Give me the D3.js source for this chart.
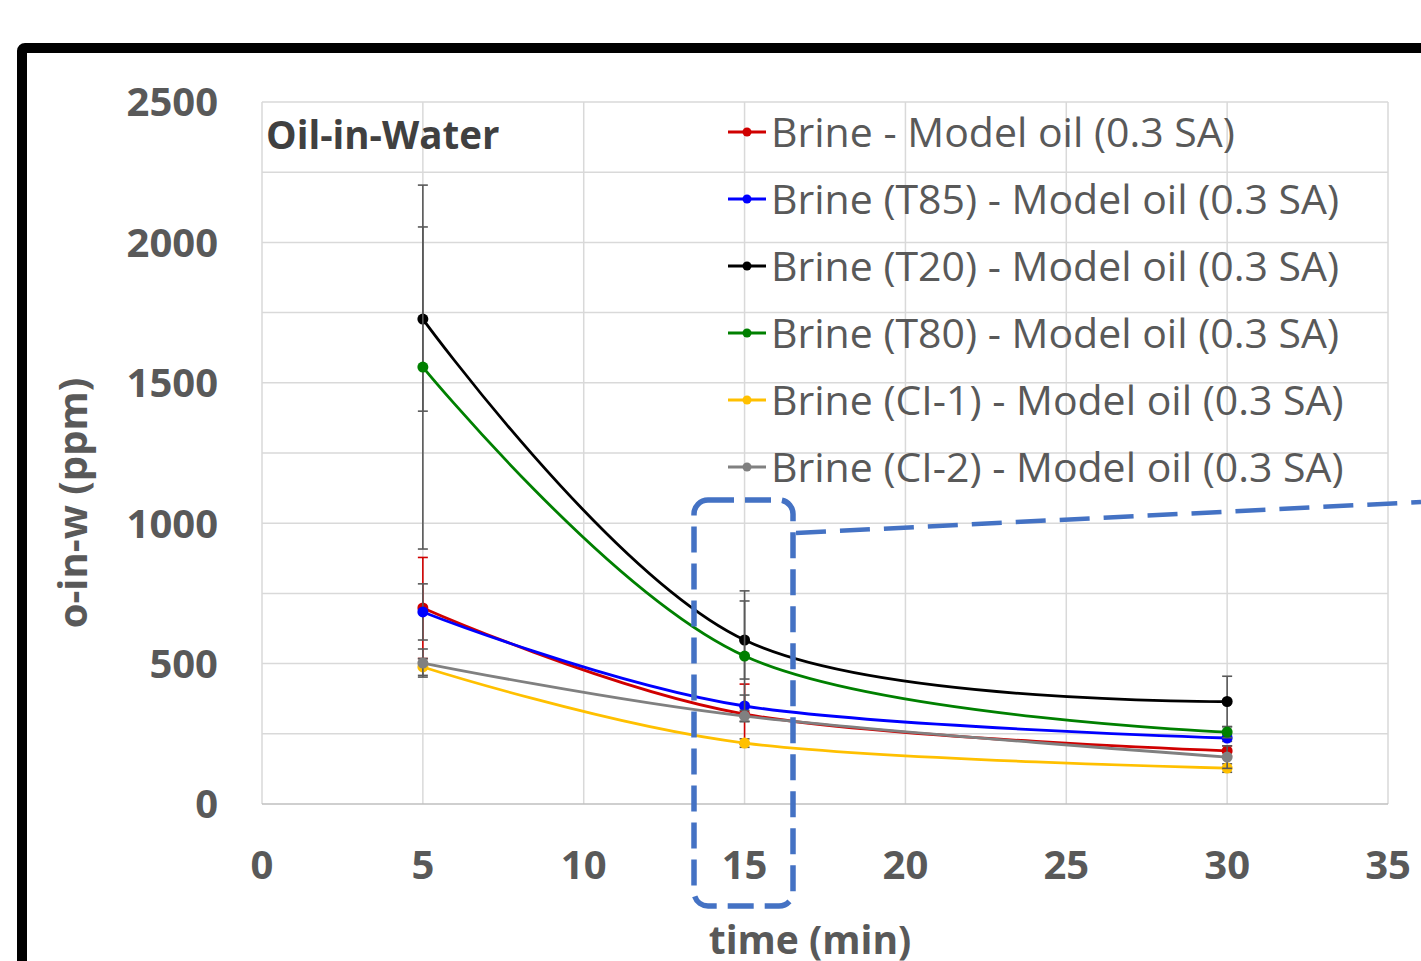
<!DOCTYPE html>
<html>
<head>
<meta charset="utf-8">
<script src="https://cdn.jsdelivr.net/npm/d3@7"></script>
<style>
  body { margin: 0; background: #fff; }
  svg { display: block; font-family: "Open Sans", "Noto Sans", sans-serif; }
</style>
</head>
<body>
<div id="chart-area"></div>
<script>
const times = [5, 15, 30]
const seriesNames = [
  "Brine - Model oil (0.3 SA)",
  "Brine (T85) - Model oil (0.3 SA)",
  "Brine (T20) - Model oil (0.3 SA)",
  "Brine (T80) - Model oil (0.3 SA)",
  "Brine (CI-1) - Model oil (0.3 SA)",
  "Brine (CI-2) - Model oil (0.3 SA)"
]
const seriesValues = [
  [698, 320, 189],
  [684, 349, 235],
  [1727, 584, 365],
  [1556, 527, 256],
  [488, 217, 128],
  [502, 313, 167]
]
const seriesErrors = [
  [180, 107, 18],
  [100, 39, 12],
  [328, 139, 90],
  [648, 232, 20],
  [30, 15, 15],
  [50, 20, 40]
]
const seriesColors = ["#d00000", "#0000ff", "#000000", "#008000", "#ffc000", "#808080"]
const errorColors = ["#d00000", "#595959", "#595959", "#595959", "#595959", "#595959"]
const xTicks = [0, 5, 10, 15, 20, 25, 30, 35]
const yTicks = [0, 500, 1000, 1500, 2000, 2500]

const W = 1421, H = 961
const PLOT = {LEFT: 262, RIGHT: 1388, TOP: 102, BOTTOM: 804}

const svg = d3.select("#chart-area").append("svg")
  .attr("width", W)
  .attr("height", H)

svg.append("rect").attr("width", W).attr("height", H).attr("fill", "#fff")

// thick frame around the figure (runs off the right and bottom)
svg.append("rect")
  .attr("x", 22).attr("y", 48)
  .attr("width", 1500).attr("height", 1000)
  .attr("rx", 3)
  .attr("fill", "none")
  .attr("stroke", "#000")
  .attr("stroke-width", 10)

const x = d3.scaleLinear().domain([0, 35]).range([PLOT.LEFT, PLOT.RIGHT])
const y = d3.scaleLinear().domain([0, 2500]).range([PLOT.BOTTOM, PLOT.TOP])

const grid = svg.append("g")
grid.selectAll(".hg").data(d3.range(250, 2501, 250)).enter().append("line")
  .attr("x1", PLOT.LEFT).attr("x2", PLOT.RIGHT)
  .attr("y1", d => y(d)).attr("y2", d => y(d))
  .attr("stroke", "#d9d9d9").attr("stroke-width", 1.5)
grid.selectAll(".vg").data(xTicks).enter().append("line")
  .attr("x1", d => x(d)).attr("x2", d => x(d))
  .attr("y1", PLOT.TOP).attr("y2", PLOT.BOTTOM)
  .attr("stroke", "#d9d9d9").attr("stroke-width", 1.5)
grid.append("line")
  .attr("x1", PLOT.LEFT).attr("x2", PLOT.RIGHT)
  .attr("y1", y(0)).attr("y2", y(0))
  .attr("stroke", "#bfbfbf").attr("stroke-width", 1.5)

// tick labels
svg.append("g").selectAll("text").data(yTicks).enter().append("text")
  .attr("x", 218).attr("y", d => y(d))
  .attr("dy", "0.36em")
  .attr("text-anchor", "end")
  .attr("font-size", "40px").attr("font-weight", "bold")
  .attr("fill", "#595959")
  .text(d => d)

svg.append("g").selectAll("text").data(xTicks).enter().append("text")
  .attr("x", d => x(d)).attr("y", 865)
  .attr("dy", "0.36em")
  .attr("text-anchor", "middle")
  .attr("font-size", "40px").attr("font-weight", "bold")
  .attr("fill", "#595959")
  .text(d => d)

// axis titles
svg.append("text")
  .attr("x", 810).attr("y", 940)
  .attr("dy", "0.36em")
  .attr("text-anchor", "middle")
  .attr("font-size", "39px").attr("font-weight", "bold")
  .attr("fill", "#595959")
  .text("time (min)")

svg.append("text")
  .attr("transform", "translate(73, 503) rotate(-90)")
  .attr("dy", "0.36em")
  .attr("text-anchor", "middle")
  .attr("font-size", "40px").attr("font-weight", "bold")
  .attr("fill", "#595959")
  .text("o-in-w (ppm)")

svg.append("text")
  .attr("x", 266).attr("y", 135)
  .attr("dy", "0.36em")
  .attr("font-size", "38.5px").attr("font-weight", "bold")
  .attr("fill", "#404040")
  .text("Oil-in-Water")

const line = d3.line()
  .x(d => x(d[0]))
  .y(d => y(d[1]))
  .curve(d3.curveCardinal)

seriesNames.forEach((name, i) => {
  const pts = times.map((t, j) => [t, seriesValues[i][j], seriesErrors[i][j]])
  const g = svg.append("g")

  // error bars
  const eb = g.selectAll(".eb").data(pts).enter().append("g")
    .attr("stroke", errorColors[i]).attr("stroke-width", 1.6)
  eb.append("line")
    .attr("x1", d => x(d[0])).attr("x2", d => x(d[0]))
    .attr("y1", d => y(d[1] + d[2])).attr("y2", d => y(d[1] - d[2]))
  eb.append("line")
    .attr("x1", d => x(d[0]) - 5).attr("x2", d => x(d[0]) + 5)
    .attr("y1", d => y(d[1] + d[2])).attr("y2", d => y(d[1] + d[2]))
  eb.append("line")
    .attr("x1", d => x(d[0]) - 5).attr("x2", d => x(d[0]) + 5)
    .attr("y1", d => y(d[1] - d[2])).attr("y2", d => y(d[1] - d[2]))

  g.append("path")
    .attr("d", line(pts))
    .attr("fill", "none")
    .attr("stroke", seriesColors[i])
    .attr("stroke-width", 2.8)

  g.selectAll("circle").data(pts).enter().append("circle")
    .attr("cx", d => x(d[0])).attr("cy", d => y(d[1]))
    .attr("r", 5.5)
    .attr("fill", seriesColors[i])
})

// legend
const legend = svg.append("g")
seriesNames.forEach((name, i) => {
  const ly = 132 + i * 67
  legend.append("line")
    .attr("x1", 728).attr("x2", 766).attr("y1", ly).attr("y2", ly)
    .attr("stroke", seriesColors[i]).attr("stroke-width", 2.8)
  legend.append("circle")
    .attr("cx", 747).attr("cy", ly).attr("r", 4.5)
    .attr("fill", seriesColors[i])
  legend.append("text")
    .attr("x", 771).attr("y", ly)
    .attr("dy", "0.36em")
    .attr("font-size", "41px")
    .attr("fill", "#595959")
    .text(name)
})

// dashed highlight box around t = 15 and the callout line
svg.append("rect")
  .attr("x", 694).attr("y", 500)
  .attr("width", 99).attr("height", 406)
  .attr("rx", 14)
  .attr("fill", "none")
  .attr("stroke", "#4472c4")
  .attr("stroke-width", 5.5)
  .attr("stroke-dasharray", "26,11")

svg.append("line")
  .attr("x1", 796).attr("y1", 533)
  .attr("x2", 1421).attr("y2", 502)
  .attr("stroke", "#4472c4")
  .attr("stroke-width", 4.5)
  .attr("stroke-dasharray", "30,14")
</script>
</body>
</html>
